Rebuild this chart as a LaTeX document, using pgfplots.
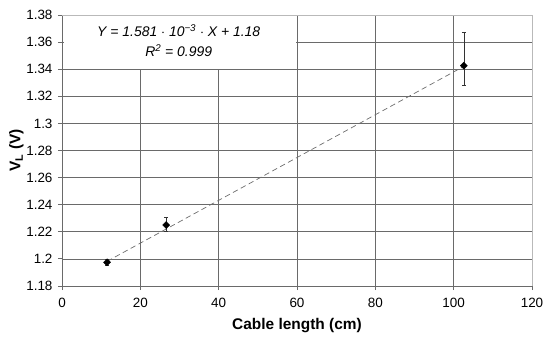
\documentclass[border=0pt]{standalone}
\usepackage{fontspec}
\setmainfont{Liberation Sans}
\usepackage{pgfplots}
\pgfplotsset{compat=1.18}
\definecolor{gridc}{HTML}{6A6A6A}
\begin{document}
\begin{tikzpicture}[x=1bp,y=1bp]
\begin{axis}[
  at={(0,0)}, anchor=south west,
  scale only axis, width=470bp, height=271bp,
  xmin=0, xmax=120, ymin=1.18, ymax=1.38,
  xtick={0,20,...,120},
  ytick={1.18,1.20,...,1.38},
  yticklabels={1.18,1.2,1.22,1.24,1.26,1.28,1.3,1.32,1.34,1.36,1.38},
  /pgf/number format/assume math mode=true,
  xticklabel style={font=\fontsize{13.5}{15}\selectfont, yshift=-5bp},
  yticklabel style={font=\fontsize{13.5}{15}\selectfont, xshift=-2bp},
  axis lines=left,
  axis line style={-, draw=gridc, line width=0.9pt},
  tick align=outside, major tick length=4bp,
  tick style={draw=gridc, line width=0.9pt},
  grid=major,
  major grid style={draw=gridc, line width=0.8pt},
  xlabel={\textbf{Cable length (cm)}},
  ylabel={\textbf{V\textsubscript{L} (V)}},
  xlabel style={font=\fontsize{15.5}{17}\selectfont, at={(axis description cs:0.5,0)}, anchor=center, yshift=-40bp},
  ylabel style={font=\fontsize{15.5}{17}\selectfont, yshift=-4bp},
  clip=false,
]
\fill[white] (axis cs:0.4,1.3404) rectangle (axis cs:59.7,1.3796);
\draw[gray!55, line width=0.8pt] (rel axis cs:0,1) -- (rel axis cs:1,1) -- (rel axis cs:1,0);
\node[font=\itshape\fontsize{14}{17}\selectfont, align=center] at (axis cs:29.8,1.3612)
  {Y = 1.581 $\cdot$ 10\textsuperscript{−3} $\cdot$ X + 1.18\\[3pt]R\textsuperscript{2} = 0.999};
\addplot[gray!85!black, dashed, dash pattern=on 5.5pt off 3.5pt, line width=0.7pt] coordinates {(11.5,1.1982) (102.6,1.3421)};
\addplot[only marks, mark=square*, mark options={rotate=45}, mark size=2.5pt, black,
  error bars/.cd, y dir=both, y explicit,
  error bar style={black!80, line width=0.6pt},
  error mark options={rotate=90, mark size=2pt, black!80, line width=0.6pt}]
  coordinates {
  (11.5,1.1975) += (0,0.002) -= (0,0.002)
  (26.6,1.225) += (0,0.006) -= (0,0.0044)
  (102.6,1.3426) += (0,0.025) -= (0,0.0146)
  };
\end{axis}
\pgfresetboundingbox
\path[use as bounding box] (-62bp,-55bp) rectangle (488bp,286bp);
\end{tikzpicture}
\end{document}
